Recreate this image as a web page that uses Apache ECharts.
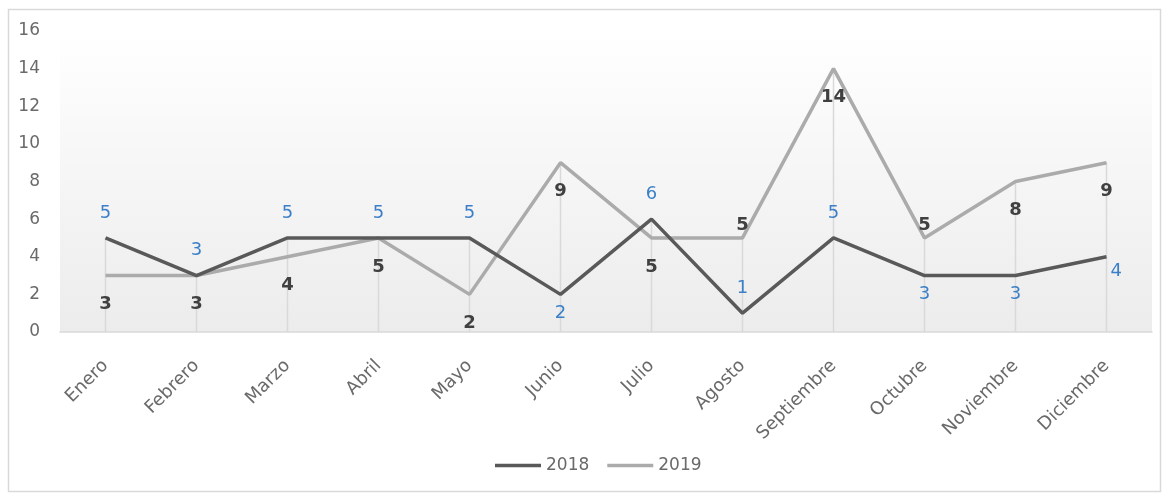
<!DOCTYPE html>
<html>
<head>
<meta charset="utf-8">
<script src="https://cdn.jsdelivr.net/npm/echarts@6/dist/echarts.min.js"></script>
<style>
html,body{margin:0;padding:0;background:#fff;}
#chart{width:1164px;height:493px;}
</style>
</head>
<body>
<div id="chart"></div>
<script>
// ---- data ----
var categories = ['Enero','Febrero','Marzo','Abril','Mayo','Junio','Julio','Agosto','Septiembre','Octubre','Noviembre','Diciembre'];
var values2018 = [5,3,5,5,5,2,6,1,5,3,3,4];
var values2019 = [3,3,4,5,2,9,5,5,14,5,8,9];
var yTicks = [0,2,4,6,8,10,12,14,16];

// ---- label placement (style) ----
var pos2018 = ['top','top','top','top','top','bottom','top','top','top','bottom','bottom','right'];
var pos2019 = ['bottom','bottom','bottom','bottom','bottom','bottom','bottom','top','bottom','top','bottom','bottom'];
var dist2018 = {top: 16, bottom: 10, right: 4};
var dist2019 = {top: 4, bottom: 20, right: 4};

var FONT = '"DejaVu Sans", sans-serif';

function items(vals, pos, dist){
  return vals.map(function(v,i){
    var p = pos[i];
    var lab = {position: p, distance: dist[p]};
    if (p === 'right') { lab.offset = [0, 15]; }
    return {value: v, label: lab};
  });
}
var drops = values2018.map(function(v,i){ return Math.max(v, values2019[i]); });

var chart = echarts.init(document.getElementById('chart'));
chart.setOption({
  animation: false,
  textStyle: {fontFamily: FONT},
  graphic: [{
    type: 'rect', left: 6, top: 7, silent: true,
    shape: {width: 1152, height: 482},
    style: {fill: 'none', stroke: '#d9d9d9', lineWidth: 1.5}
  }],
  grid: {
    left: 60, right: 12, top: 31, bottom: 161,
    show: true, borderWidth: 0,
    backgroundColor: {
      type: 'linear', x: 0, y: 0, x2: 0, y2: 1,
      colorStops: [{offset: 0, color: '#ffffff'}, {offset: 0.1, color: '#fdfdfd'}, {offset: 1, color: '#ececec'}]
    }
  },
  legend: {
    data: ['2018','2019'],
    bottom: 14, left: 490,
    itemWidth: 46, itemHeight: 3.5, itemGap: 18,
    icon: 'rect',
    textStyle: {fontSize: 17, color: '#6a6a6a', fontFamily: FONT}
  },
  xAxis: {
    type: 'category',
    data: categories,
    boundaryGap: true,
    axisLine: {lineStyle: {color: '#d9d9d9', width: 1.5}},
    axisTick: {show: false},
    axisLabel: {rotate: 45, fontSize: 18, color: '#6a6a6a', margin: 31, fontFamily: FONT}
  },
  yAxis: {
    type: 'value',
    min: yTicks[0], max: yTicks[yTicks.length-1], interval: yTicks[1]-yTicks[0],
    axisLine: {show: false},
    axisTick: {show: false},
    splitLine: {show: false},
    axisLabel: {fontSize: 17, color: '#6a6a6a', margin: 20, fontFamily: FONT}
  },
  series: [
    {
      name: 'drop', type: 'bar', data: drops, barWidth: 1.5,
      itemStyle: {color: '#d9d9d9'}, silent: true, z: 1
    },
    {
      name: '2018', type: 'line', data: items(values2018, pos2018, dist2018),
      symbol: 'circle', symbolSize: 0.1, showSymbol: true, z: 3,
      lineStyle: {color: '#595959', width: 3.5},
      itemStyle: {color: '#595959'},
      label: {show: true, fontSize: 18, color: '#3a7fc8', fontFamily: FONT}
    },
    {
      name: '2019', type: 'line', data: items(values2019, pos2019, dist2019),
      symbol: 'circle', symbolSize: 0.1, showSymbol: true, z: 2,
      lineStyle: {color: '#ababab', width: 3.5},
      itemStyle: {color: '#ababab'},
      label: {show: true, fontSize: 18, fontWeight: 'bold', color: '#404040', fontFamily: FONT}
    }
  ]
});
</script>
</body>
</html>
